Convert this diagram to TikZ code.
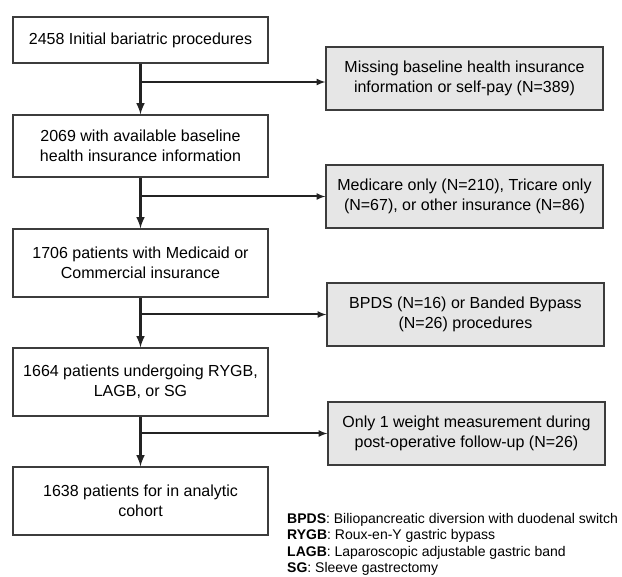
\documentclass[tikz,border=0pt]{standalone}
\usepackage{fontspec}
\setmainfont{Liberation Sans}
\usetikzlibrary{arrows}
\newcommand{\FlowArrowType}{latex}
\definecolor{boxline}{RGB}{60,60,60}
\definecolor{exclfill}{RGB}{230,230,230}
\definecolor{flowline}{RGB}{35,35,35}

\begin{document}
\begin{tikzpicture}[>=\FlowArrowType,x=1pt,y=1pt,
    stagebox/.style={draw=boxline,line width=1.2pt,minimum width=255pt,
        align=center,inner sep=0pt,font=\fontsize{16}{20}\selectfont},
    exclbox/.style={stagebox,fill=exclfill,minimum width=277pt,minimum height=63pt},
    mainflow/.style={->,draw=flowline,line width=2.8pt},
    sideflow/.style={->,draw=flowline,line width=2pt}]
        \useasboundingbox (0, 0) rectangle (622, -577);

        % left column
        \node[stagebox,minimum height=46pt] (init) at (140.5, -40)
            {2458 Initial bariatric procedures};
        \node[stagebox,minimum height=62pt] (avail) at (140.5, -146)
            {2069 with available baseline\\health insurance information};
        \node[stagebox,minimum height=68pt] (insur) at (140.5, -263)
            {1706 patients with Medicaid or\\Commercial insurance};
        \node[stagebox,minimum height=68pt] (procs) at (140.5, -382)
            {1664 patients undergoing RYGB,\\LAGB, or SG};
        \node[stagebox,minimum height=68pt] (cohort) at (140.5, -501)
            {1638 patients for in analytic\\cohort};

        % exclusions
        \node[exclbox] (missing) at (464.5, -78.5)
            {Missing baseline health insurance\\information or self-pay (N=389)};
        \node[exclbox] (others) at (464.5, -196.5)
            {Medicare only (N=210), Tricare only\\(N=67), or other insurance (N=86)};
        \node[exclbox] (banded) at (465.5, -314.5)
            {BPDS (N=16) or Banded Bypass\\(N=26) procedures};
        \node[exclbox] (weight) at (466.5, -433.5)
            {Only 1 weight measurement during\\post-operative follow-up (N=26)};

        \draw[mainflow] (init) -- (avail);
        \draw[mainflow] (avail) -- (insur);
        \draw[mainflow] (insur) -- (procs);
        \draw[mainflow] (procs) -- (cohort);

        \coordinate (split1) at (141, -82);
        \coordinate (split2) at (141, -196.5);
        \coordinate (split3) at (141, -314.5);
        \coordinate (split4) at (141, -433.5);
        \draw[sideflow] (split1) -- (split1 -| missing.west);
        \draw[sideflow] (split2) -- (split2 -| others.west);
        \draw[sideflow] (split3) -- (split3 -| banded.west);
        \draw[sideflow] (split4) -- (split4 -| weight.west);

        % abbreviations
        \node[anchor=north west,align=left,inner sep=0pt,
              font=\fontsize{14}{16.5}\selectfont] (abbrev) at (287, -513)
            {\textbf{BPDS}: Biliopancreatic diversion with duodenal switch\\
             \textbf{RYGB}: Roux-en-Y gastric bypass\\
             \textbf{LAGB}: Laparoscopic adjustable gastric band\\
             \textbf{SG}: Sleeve gastrectomy};
\end{tikzpicture}
\end{document}
